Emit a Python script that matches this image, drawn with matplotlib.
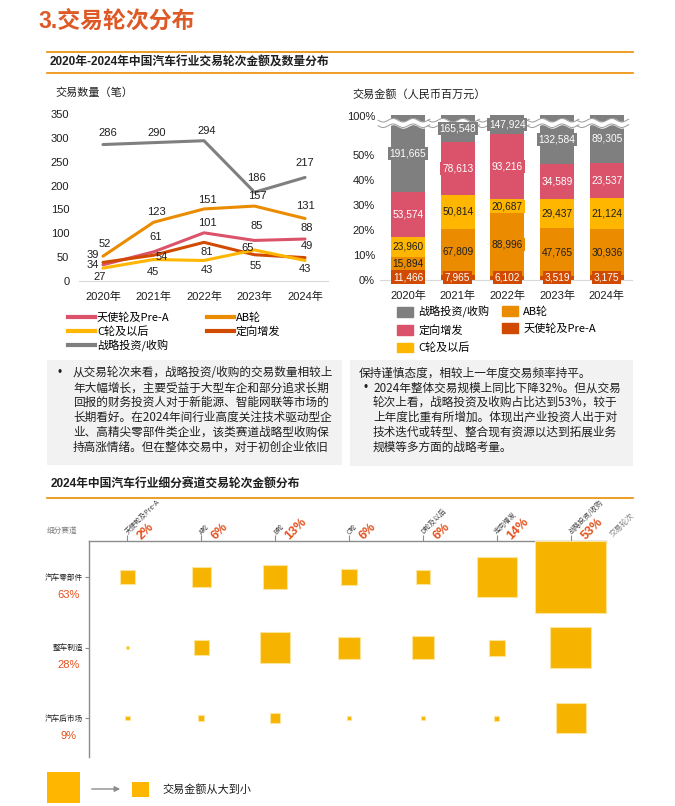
import numpy as np
import matplotlib
matplotlib.use('Agg')
import matplotlib.pyplot as plt
import matplotlib.transforms as mtrans
from matplotlib.patches import Rectangle, Patch, FancyArrowPatch
from matplotlib.lines import Line2D

plt.rcParams['font.family'] = ['Liberation Sans', 'Noto Sans CJK SC']
CJK = ['Noto Sans CJK SC', 'Liberation Sans']

W, H = 675, 806

years = ['2020年', '2021年', '2022年', '2023年', '2024年']

# 交易数量（笔）
cnt_angel = [34, 61, 101, 85, 88]
cnt_ab = [52, 123, 151, 157, 131]
cnt_c = [27, 45, 43, 65, 43]
cnt_private = [39, 54, 81, 55, 49]
cnt_strategic = [286, 290, 294, 186, 217]

# 交易金额（人民币百万元）
amt_angel = [11466, 7965, 6102, 3519, 3175]
amt_ab = [15894, 67809, 88996, 47765, 30936]
amt_c = [23960, 50814, 20687, 29437, 21124]
amt_private = [53574, 78613, 93216, 34589, 23537]
amt_strategic = [191665, 165548, 147924, 132584, 89305]

# 2024 细分赛道 x 交易轮次 金额（百万元，按方块面积估算）
rounds = ['天使轮及Pre-A', 'A轮', 'B轮', 'C轮', 'D轮及以后', '定向增发', '战略投资/收购']
round_share = ['2%', '6%', '13%', '6%', '6%', '14%', '53%']
sectors = ['汽车零部件', '整车制造', '汽车后市场']
sector_share = ['63%', '28%', '9%']
seg_amt = [
    [2700, 4600, 7500, 3200, 2600, 19600, 63800],
    [140, 2600, 11400, 6000, 6300, 3200, 20400],
    [250, 470, 1400, 210, 210, 350, 11100],
]

left_text = [
    '从交易轮次来看，战略投资/收购的交易数量相较上',
    '年大幅增长，主要受益于大型车企和部分追求长期',
    '回报的财务投资人对于新能源、智能网联等市场的',
    '长期看好。在2024年间行业高度关注技术驱动型企',
    '业、高精尖零部件类企业，该类赛道战略型收购保',
    '持高涨情绪。但在整体交易中，对于初创企业依旧',
]
right_first = '保持谨慎态度，相较上一年度交易频率持平。'
right_text = [
    '2024年整体交易规模上同比下降32%。但从交易',
    '轮次上看，战略投资及收购占比达到53%，较于',
    '上年度比重有所增加。体现出产业投资人出于对',
    '技术迭代或转型、整合现有资源以达到拓展业务',
    '规模等多方面的战略考量。',
]

C_GRAY = '#7F7F7F'
C_PINK = '#DB536A'
C_AB = '#EB8C00'
C_YEL = '#FFB600'
C_RED = '#D04A02'
C_TITLE = '#DD5A26'
C_PCT = '#E3501D'
C_SQ = '#F6B400'
C_TXT = '#1F1F1F'


def px_rect(x0, y0, x1, y1):
    return [x0 / W, 1 - y1 / H, (x1 - x0) / W, (y1 - y0) / H]


def fx(x):
    return x / W


def fy(y):
    return 1 - y / H


fig = plt.figure(figsize=(W / 100, H / 100), dpi=100)

# header
fig.text(fx(38), fy(21), '3.交易轮次分布', fontsize=16.5, fontweight='bold',
         color=C_TITLE, va='center')
for yy in (52, 73):
    fig.add_artist(Line2D([fx(47), fx(633)], [fy(yy), fy(yy)], color=C_AB, lw=1.2))
fig.text(fx(50), fy(63), '2020年-2024年中国汽车行业交易轮次金额及数量分布',
         fontsize=8.5, fontweight='bold', va='center', color=C_TXT)

# ---- left: line chart
ax1 = fig.add_axes(px_rect(79, 114, 328, 281))
x = np.arange(len(years))
series = [
    ('战略投资/收购', cnt_strategic, C_GRAY, [(5, -12), (3, -10), (3, -10), (2, -14), (0, -14)]),
    ('AB轮', cnt_ab, C_AB, [(2, -12), (3, -10), (3, -9), (3, -10), (0, -12)]),
    ('天使轮及Pre-A', cnt_angel, C_PINK, [(-10, 0), (2, -15), (3, -10), (2, -14), (2, -11)]),
    ('定向增发', cnt_private, C_RED, [(-10, -7), (8, 2), (3, 10), (1, 11), (2, -12)]),
    ('C轮及以后', cnt_c, C_YEL, [(-3, 9), (-1, 12), (3, 10), (-7, -2), (0, 9)]),
]
for name, vals, col, offs in series:
    ax1.plot(x, vals, color=col, lw=2.2, solid_capstyle='round')
    for xi, v, (dx, dy) in zip(x, vals, offs):
        ax1.annotate(str(v), (xi, v), xytext=(dx * 0.72, -dy * 0.72),
                     textcoords='offset points', ha='center', va='center',
                     fontsize=8, color=C_TXT)
ax1.set_xlim(-0.475, 4.455)
ax1.set_ylim(0, 350)
ax1.set_yticks(range(0, 351, 50))
ax1.set_xticks(x, years)
ax1.tick_params(length=0, labelsize=8, colors=C_TXT)
ax1.tick_params(axis='y', pad=7)
ax1.tick_params(axis='x', pad=7.5)
for s in ('top', 'right', 'left'):
    ax1.spines[s].set_visible(False)
ax1.spines['bottom'].set_color('#D9D9D9')
fig.text(fx(55), fy(93), '交易数量（笔）', fontsize=8, va='center', color=C_TXT)

lh = {name: Line2D([], [], color=col, lw=3) for name, _, col, _ in series}
leg_kw = dict(loc='upper left', frameon=False, borderaxespad=0, borderpad=0,
              handlelength=2.4, handletextpad=0.2, labelspacing=0.25,
              prop={'family': CJK, 'size': 8})
col1 = ['天使轮及Pre-A', 'C轮及以后', '战略投资/收购']
col2 = ['AB轮', '定向增发']
fig.legend([lh[n] for n in col1], col1, bbox_to_anchor=(fx(68), fy(313)), **leg_kw)
fig.legend([lh[n] for n in col2], col2, bbox_to_anchor=(fx(207), fy(313)), **leg_kw)

# ---- right: stacked bar (percent) with broken top
ax2 = fig.add_axes(px_rect(380, 115, 632, 280))
top = 66.0
amts = np.array([amt_angel, amt_ab, amt_c, amt_private, amt_strategic], dtype=float)
pct = amts / amts.sum(axis=0) * 100
bw = 0.684
stack = [
    (amt_angel, C_RED, 'white'),
    (amt_ab, C_AB, C_TXT),
    (amt_c, C_YEL, C_TXT),
    (amt_private, C_PINK, 'white'),
    (amt_strategic, C_GRAY, 'white'),
]
bottom = np.zeros(len(years))
for k, (vals, col, tcol) in enumerate(stack):
    h = pct[k] if k < 4 else top - bottom
    ax2.bar(x, h, bottom=bottom, width=bw, color=col, zorder=2)
    for xi in x:
        if k == 0:
            yc = 1.0
        else:
            yc = bottom[xi] + h[xi] / 2
        ax2.text(xi, yc, f'{vals[xi]:,}', ha='center', va='center', fontsize=7.3,
                 color=tcol, zorder=5,
                 bbox=dict(facecolor=col, edgecolor='none', pad=1.2))
    bottom = bottom + h

# axis break marks
for xi in x:
    xs = np.linspace(xi - 0.6, xi + 0.44, 80)
    w = 0.7 * np.sin((xs - xi) * 2 * np.pi / 0.4)
    ax2.fill_between(xs, 61.7 + w, 63.9 + w, color='white', zorder=3, clip_on=False)
    ax2.plot(xs, 61.7 + w, color='#9A9A9A', lw=0.7, zorder=4, clip_on=False)
    ax2.plot(xs, 63.9 + w, color='#9A9A9A', lw=0.7, zorder=4, clip_on=False)

ax2.set_xlim(-0.563, 4.507)
ax2.set_ylim(0, top)
ax2.set_yticks([0, 10, 20, 30, 40, 50, 65.6],
               ['0%', '10%', '20%', '30%', '40%', '50%', '100%'])
ax2.set_xticks(x, years)
ax2.tick_params(length=0, labelsize=8, colors=C_TXT)
ax2.tick_params(axis='y', pad=3.6)
ax2.tick_params(axis='x', pad=7.5)
for s in ('top', 'right', 'left'):
    ax2.spines[s].set_visible(False)
ax2.spines['bottom'].set_color('#D9D9D9')
fig.text(fx(352), fy(94), '交易金额（人民币百万元）', fontsize=8, va='center', color=C_TXT)

ph = {'战略投资/收购': C_GRAY, 'AB轮': C_AB, '定向增发': C_PINK,
      '天使轮及Pre-A': C_RED, 'C轮及以后': C_YEL}
leg2_kw = dict(loc='upper left', frameon=False, borderaxespad=0, borderpad=0,
               handlelength=1.45, handleheight=1.0, handletextpad=0.45,
               labelspacing=0.6, prop={'family': CJK, 'size': 8})
rc1 = ['战略投资/收购', '定向增发', 'C轮及以后']
rc2 = ['AB轮', '天使轮及Pre-A']
fig.legend([Patch(color=ph[n]) for n in rc1], rc1, bbox_to_anchor=(fx(397), fy(306)), **leg2_kw)
fig.legend([Patch(color=ph[n]) for n in rc2], rc2, bbox_to_anchor=(fx(502), fy(306)), **leg2_kw)

# ---- text boxes
fig.add_artist(Rectangle((fx(47), fy(465)), (342 - 47) / W, (465 - 360) / H,
                         transform=fig.transFigure, facecolor='#F2F2F2', edgecolor='none'))
fig.add_artist(Rectangle((fx(350), fy(466)), (633 - 350) / W, (466 - 360) / H,
                         transform=fig.transFigure, facecolor='#F2F2F2', edgecolor='none'))
pitch = 14.8
fig.text(fx(58), fy(373), '•', fontsize=8.3, va='center', color=C_TXT)
for i, line in enumerate(left_text):
    fig.text(fx(73), fy(373 + i * pitch), line, fontsize=8.4, va='center',
             color=C_TXT, family=CJK)
fig.text(fx(359), fy(373), right_first, fontsize=8.4, va='center', color=C_TXT, family=CJK)
fig.text(fx(363), fy(373 + pitch), '•', fontsize=8.3, va='center', color=C_TXT)
for i, line in enumerate(right_text):
    fig.text(fx(373), fy(373 + (i + 1) * pitch), line, fontsize=8.4, va='center',
             color=C_TXT, family=CJK)

# ---- bottom: square matrix
fig.text(fx(51), fy(485), '2024年中国汽车行业细分赛道交易轮次金额分布',
         fontsize=8.5, fontweight='bold', va='center', color=C_TXT)
fig.add_artist(Line2D([fx(47), fx(633)], [fy(498), fy(498)], color=C_AB, lw=1.2))

ax3 = fig.add_axes(px_rect(89, 541, 606, 757))
seg = np.array(seg_amt, dtype=float)
cols, rows = np.meshgrid(np.arange(len(rounds)), np.arange(len(sectors)))
ax3.scatter(cols.ravel(), rows.ravel(), s=seg.ravel() * 0.0419, marker='s',
            color=C_SQ, edgecolors='#FCE49A', linewidths=0.8, clip_on=False, zorder=3)
ax3.set_xlim(-0.52, 6.48)
ax3.set_ylim(2.55, -0.51)
ax3.set_xticks(range(len(rounds)))
ax3.set_yticks(range(len(sectors)), sectors)
ax3.tick_params(axis='x', top=True, bottom=False, labeltop=False, labelbottom=False,
                length=4, color='#8C8C8C', width=0.8)
ax3.tick_params(axis='y', length=3, color='#8C8C8C', width=0.8, labelsize=5.5,
                pad=1.5, labelcolor=C_TXT)
for lab in ax3.get_yticklabels():
    lab.set_family(CJK)
for s in ('bottom', 'right'):
    ax3.spines[s].set_visible(False)
for s in ('top', 'left'):
    ax3.spines[s].set_color('#8C8C8C')
    ax3.spines[s].set_linewidth(1.0)

bl = mtrans.blended_transform_factory(ax3.transData, ax3.transAxes)
for i, (r, sh) in enumerate(zip(rounds, round_share)):
    ax3.annotate(r, (i, 1.0), xycoords=bl, xytext=(-0.5, 5.5), textcoords='offset points',
                 rotation=45, rotation_mode='anchor', ha='left', va='center',
                 fontsize=5, color='#404040', family=CJK)
    ax3.annotate(sh, (i, 1.0), xycoords=bl, xytext=(9, 2.5), textcoords='offset points',
                 rotation=45, rotation_mode='anchor', ha='left', va='center',
                 fontsize=9, fontweight='bold', color=C_PCT)
ax3.annotate('交易轮次', (6.48, 1.0), xycoords=bl, xytext=(4, 4), textcoords='offset points',
             rotation=45, rotation_mode='anchor', ha='left', va='center',
             fontsize=5.5, color='#808080', family=CJK)
fig.text(fx(47), fy(531), '细分赛道', fontsize=5.5, color='#808080', va='center', family=CJK)

bl2 = mtrans.blended_transform_factory(ax3.transAxes, ax3.transData)
for r, sh in enumerate(sector_share):
    ax3.text(-0.040, r + 0.25, sh, transform=bl2, ha='center', va='center',
             fontsize=8, color=C_PCT)

# bottom legend
fig.add_artist(Rectangle((fx(47), fy(803)), 33 / W, 31 / H, transform=fig.transFigure,
                         facecolor=C_YEL, edgecolor='none'))
fig.add_artist(Rectangle((fx(132), fy(797)), 17 / W, 15 / H, transform=fig.transFigure,
                         facecolor=C_YEL, edgecolor='none'))
fig.add_artist(FancyArrowPatch((fx(89), fy(789)), (fx(123), fy(789)),
                               transform=fig.transFigure, arrowstyle='-|>',
                               mutation_scale=8, color='#8C8C8C', lw=1))
fig.text(fx(162), fy(790), '交易金额从大到小', fontsize=8, va='center', color=C_TXT, family=CJK)

fig.savefig('out.png', dpi=100)
